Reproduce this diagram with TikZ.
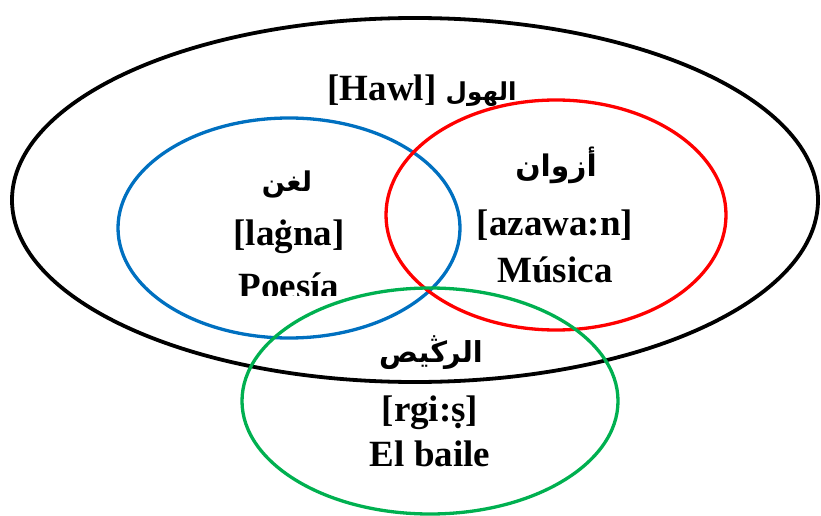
\documentclass[tikz,border=0pt]{standalone}
\usepackage{fontspec}
\setmainfont{Liberation Serif}
\newfontfamily\arabicfont[Script=Arabic,Scale=0.85]{DejaVu Sans}
\TeXXeTstate=1
\begin{document}
\begin{tikzpicture}[x=1pt,y=-1pt,
  lbl/.style={anchor=base,inner sep=0pt,font=\fontsize{37}{40}\selectfont\bfseries},
  albl/.style={anchor=base,inner sep=0pt,font=\fontsize{32}{36}\selectfont\arabicfont\bfseries}]
\useasboundingbox (0,0) rectangle (821,516);
\draw[line width=3.8pt,black] (415,200) ellipse [x radius=403,y radius=182];
\draw[line width=3.3pt,color={rgb,255:red,0;green,112;blue,192}] (289,228) ellipse [x radius=171,y radius=110];
\draw[line width=3.3pt,color={rgb,255:red,255;green,0;blue,0}] (556,215) ellipse [x radius=170,y radius=115];
\draw[line width=3.3pt,color={rgb,255:red,0;green,176;blue,80}] (430,401) ellipse [x radius=188,y radius=113];
% top label
\node[lbl] (hawl) at (422,101) {[Hawl] {\fontsize{29}{30}\selectfont\arabicfont\beginR الهول\endR}};
% blue
\node[albl] (ar1) at (287,191) {\beginR لغن\endR};
\node[lbl] (tr1) at (289,245) {[laġna]};
\begin{scope}
\clip (150,250) rectangle (430,295);
\node[lbl] (es1) at (289,298) {Poesía};
\end{scope}
% red
\node[albl,font=\fontsize{35}{38}\selectfont\arabicfont\bfseries] (ar2) at (556,176) {\beginR أزوان\endR};
\node[lbl] (tr2) at (555,235) {[azawa:n]};
\node[lbl] (es2) at (555,282) {Música};
% green
\node[albl,font=\fontsize{34}{38}\selectfont\arabicfont\bfseries] (ar3) at (431,362) {\beginR الرڭيص\endR};
\node[lbl] (tr3) at (430,421) {[rgi:ṣ]};
\node[lbl] (es3) at (430,466) {El baile};
\end{tikzpicture}
\end{document}
